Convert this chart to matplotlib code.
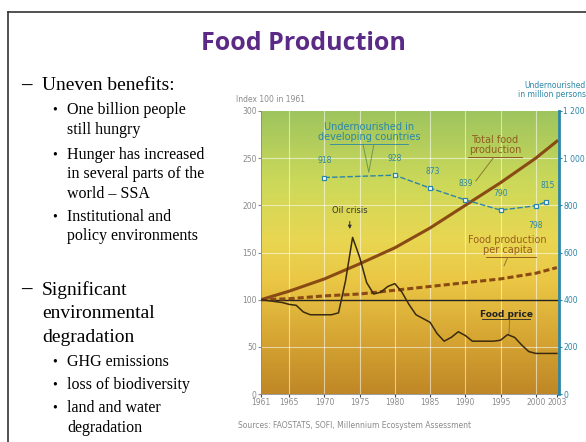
import numpy as np
import matplotlib
matplotlib.use("Agg")
from matplotlib import pyplot as plt
from matplotlib.colors import LinearSegmentedColormap

# Dane
years = [1961, 1965, 1970, 1975, 1980, 1985, 1990, 1995, 2000, 2003]
total_food = [100, 109, 122, 138, 155, 176, 200, 224, 250, 268]
food_per_capita = [100, 101, 104, 106, 110, 114, 118, 122, 128, 134]

price_years = list(range(1961, 2004))
food_price = [100, 99, 98, 97, 95, 94, 87, 84, 84, 84, 84, 86, 120, 166, 145,
              118, 106, 108, 114, 117, 108, 95, 84, 80, 76, 64, 56, 60, 66, 62,
              56, 56, 56, 56, 57, 63, 60, 52, 45, 43, 43, 43, 43]

under_years = [1970, 1980, 1985, 1990, 1995, 2000, 2001.5]
under_values = [918, 928, 873, 823, 780, 798, 815]
under_labels = ["918", "928", "873", "839", "790", "798", "815"]

xtick_years = [1961, 1965, 1970, 1975, 1980, 1985, 1990, 1995, 2000, 2003]
left_ticks = [0, 50, 100, 150, 200, 250, 300]
right_ticks = [0, 200, 400, 600, 800, 1000, 1200]
right_labels = ["0", "200", "400", "600", "800", "1 000", "1 200"]

teal = "#2b86a8"
brown = "#8a4a14"
gray = "#8a8a8a"

fig = plt.figure(figsize=(5.86, 4.42), dpi=100)

# ramka slajdu
fig.add_artist(plt.Line2D([8 / 586, 1], [1 - 12 / 442, 1 - 12 / 442], color="#333333", lw=1.2))
fig.add_artist(plt.Line2D([8 / 586, 8 / 586], [0, 1 - 12 / 442], color="#333333", lw=1.2))

fig.text(303 / 586, 1 - 44 / 442, "Food Production", color="#5b2a86", fontsize=18,
         fontweight="bold", family="Open Sans", ha="center", va="center")

# tekst po lewej
serif = "Liberation Serif"
def txt(x, y, s, size, **kw):
    fig.text(x / 586, 1 - y / 442, s, fontsize=size, family=serif, va="center", ha="left", **kw)

txt(21, 86, "\u2013", 15, fontweight="bold")
txt(42, 86, "Uneven benefits:", 14)
txt(21, 290, "\u2013", 15, fontweight="bold")
for y, s in [(290, "Significant"), (314, "environmental"), (338, "degradation")]:
    txt(42, y, s, 14)
bullets = [(110, "One billion people", True), (130, "still hungry", False),
           (155, "Hunger has increased", True), (174, "in several parts of the", False),
           (194, "world \u2013 SSA", False), (217, "Institutional and", True),
           (236, "policy environments", False), (362, "GHG emissions", True),
           (385, "loss of biodiversity", True), (408, "land and water", True),
           (428, "degradation", False)]
for y, s, b in bullets:
    if b:
        txt(52, y, "\u2022", 10)
    txt(67, y, s, 11.5)

# wykres
ax = fig.add_axes([261 / 586, 1 - 394 / 442, 298 / 586, 283 / 442])
ax.set_xlim(1961, 2003.3)
ax.set_ylim(0, 300)

cmap = LinearSegmentedColormap.from_list("bg", [
    (0.0, (0.75, 0.53, 0.15)),
    (0.2, (0.84, 0.65, 0.20)),
    (0.4, (0.92, 0.78, 0.27)),
    (0.55, (0.91, 0.84, 0.32)),
    (0.75, (0.80, 0.85, 0.35)),
    (1.0, (0.62, 0.77, 0.37)),
])
grad = np.linspace(0, 1, 256).reshape(-1, 1)
ax.imshow(grad, cmap=cmap, origin="lower", aspect="auto",
          extent=[1961, 2003.3, 0, 300], zorder=0)

for yr in xtick_years[1:-1]:
    ax.axvline(yr, color="white", lw=0.8, alpha=0.55, zorder=1)
for v in [50, 150, 200, 250]:
    ax.axhline(v, color="white", lw=0.8, alpha=0.55, zorder=1)
ax.axhline(100, color="#222222", lw=1.0, zorder=2)

ax.plot(years, total_food, color=brown, lw=2.2, zorder=4)
ax.plot(years, food_per_capita, color=brown, lw=2.2, ls=(0, (2, 1)), zorder=4)
ax.plot(price_years, food_price, color="#3a2a10", lw=1.1, zorder=4)

ax.set_xticks(xtick_years)
ax.set_xticklabels([str(y) for y in xtick_years])
ax.set_yticks(left_ticks)
ax.tick_params(axis="both", labelsize=5.5, colors=gray, length=2, pad=1)
ax.tick_params(axis="x", colors="#444444", labelcolor=gray)
for s in ["top", "right"]:
    ax.spines[s].set_visible(False)
ax.spines["left"].set_color(gray)
ax.spines["left"].set_linewidth(0.6)
ax.spines["bottom"].set_color(gray)
ax.spines["bottom"].set_linewidth(0.6)

ax2 = ax.twinx()
ax2.set_ylim(0, 1200)
ax2.set_yticks(right_ticks)
ax2.set_yticklabels(right_labels)
ax2.tick_params(axis="y", labelsize=5.5, colors=teal, length=2, pad=1)
for s in ["top", "left", "bottom"]:
    ax2.spines[s].set_visible(False)
ax2.spines["right"].set_color(teal)
ax2.spines["right"].set_linewidth(2)
ax2.plot(under_years, under_values, color=teal, lw=1.0, ls=(0, (4, 1.5)),
         marker="s", ms=3.5, mfc="white", mec=teal, mew=0.9, zorder=5)
offsets = [(0, 12), (0, 12), (2, 12), (0, 12), (0, 12), (0, -14), (1, 12)]
for x, v, lab, (dx, dy) in zip(under_years, under_values, under_labels, offsets):
    ax2.annotate(lab, (x, v), xytext=(dx, dy), textcoords="offset points",
                 fontsize=5.5, color=teal, ha="center", va="center")

# opisy
ax.text(1976.3, 278, "Undernourished in\ndeveloping countries", fontsize=7,
        color=teal, ha="center", va="center", linespacing=1.0)
ax.plot([1970.8, 1981.8], [264.5, 264.5], color=teal, lw=0.6)
ax.plot([1975.5, 1976.3, 1977], [264, 235, 264], color="#6a9a50", lw=0.7)
ax.text(1994.2, 264, "Total food\nproduction", fontsize=7, color=brown,
        ha="center", va="center", linespacing=1.0, alpha=0.85)
ax.plot([1990.4, 1998], [251, 251], color=brown, lw=0.6)
ax.plot([1994, 1991.5], [250.5, 226], color="#8a7a30", lw=0.7)
ax.text(1973.6, 194, "Oil crisis", fontsize=6, color="#333333", ha="center", va="center")
ax.annotate("", xy=(1973.6, 172), xytext=(1973.6, 186),
            arrowprops=dict(arrowstyle="-|>", color="#333333", lw=0.7, mutation_scale=5))
ax.text(1996, 158, "Food production\nper capita", fontsize=7, color=brown,
        ha="center", va="center", linespacing=1.0, alpha=0.85)
ax.plot([1993, 2000], [145, 145], color=brown, lw=0.6)
ax.plot([1996, 1995.5], [144.5, 136], color="#8a7a30", lw=0.7)
ax.text(1995.8, 84, "Food price", fontsize=6.5, color="#222222", fontweight="bold",
        ha="center", va="center")
ax.plot([1992.3, 1999.2], [79, 79], color="#222222", lw=0.6)
ax.plot([1996.3, 1996.2], [78.5, 64], color="#8a7a30", lw=0.7)

fig.text(236 / 586, 1 - 99 / 442, "Index 100 in 1961", fontsize=5.5, color=gray, va="center")
fig.text(586 / 586, 1 - 90 / 442, "Undernourished\nin million persons", fontsize=5.5,
         color=teal, ha="right", va="center", linespacing=1.0)
fig.text(238 / 586, 1 - 425 / 442, "Sources: FAOSTATS, SOFI, Millennium Ecosystem Assessment",
         fontsize=5.5, color=gray, va="center")

fig.savefig("out.png", dpi=100)
